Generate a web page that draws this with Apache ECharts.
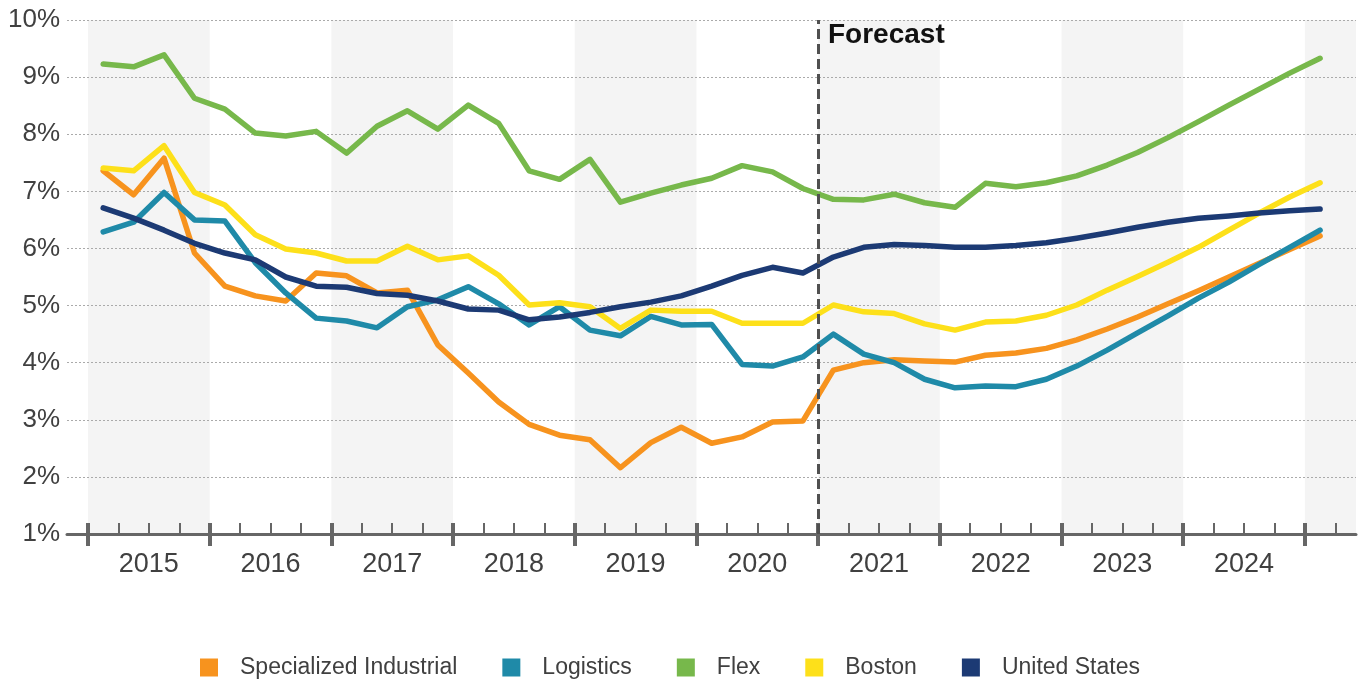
<!DOCTYPE html>
<html>
<head>
<meta charset="utf-8">
<script src="https://cdn.jsdelivr.net/npm/echarts@6/dist/echarts.min.js"></script>
<style>html,body{margin:0;padding:0;background:#fff}#c{width:1364px;height:682px}</style>
</head>
<body>
<div id="c"></div>
<script>
// ---- data (quarterly, 2015 Q1 .. 2025 Q1) ----
const years = ['2015','2016','2017','2018','2019','2020','2021','2022','2023','2024'];
const quartersPerYear = 4;
const forecastStartQuarter = 24; // 2021 Q1
const seriesNames = ['Specialized Industrial','Logistics','Flex','Boston','United States'];
const seriesColors = ['#F7931E','#1F8AA8','#77B84B','#FDE01A','#1C3A74'];

const specialized = [7.36,6.94,7.58,5.92,5.34,5.17,5.08,5.57,5.52,5.22,
  5.27,4.31,3.82,3.31,2.92,2.73,2.65,2.16,2.60,2.87,
  2.59,2.70,2.96,2.98,3.87,4.00,4.05,4.03,4.01,4.13,
  4.17,4.25,4.40,4.59,4.80,5.03,5.26,5.50,5.74,5.98,6.22];
const logistics = [6.29,6.46,6.98,6.50,6.48,5.75,5.22,4.78,4.73,4.61,
  4.98,5.10,5.33,5.03,4.66,4.98,4.57,4.47,4.81,4.66,
  4.67,3.97,3.94,4.10,4.50,4.15,4.00,3.71,3.56,3.59,
  3.58,3.71,3.94,4.22,4.52,4.82,5.13,5.41,5.72,6.02,6.32];
const flex = [9.23,9.18,9.39,8.63,8.44,8.02,7.97,8.05,7.67,8.14,
  8.41,8.09,8.51,8.19,7.36,7.21,7.56,6.81,6.97,7.11,
  7.23,7.45,7.34,7.05,6.86,6.85,6.95,6.80,6.72,7.14,
  7.08,7.15,7.27,7.46,7.68,7.94,8.22,8.51,8.79,9.07,9.33];
const boston = [7.41,7.36,7.80,6.98,6.76,6.24,5.99,5.92,5.78,5.78,
  6.04,5.80,5.87,5.53,5.01,5.05,4.98,4.60,4.92,4.90,
  4.90,4.69,4.69,4.69,5.01,4.89,4.86,4.68,4.57,4.71,
  4.73,4.83,5.01,5.27,5.51,5.76,6.02,6.32,6.62,6.90,7.15];
const unitedStates = [6.71,6.53,6.32,6.09,5.92,5.80,5.50,5.34,5.32,5.21,
  5.18,5.08,4.94,4.92,4.75,4.80,4.88,4.98,5.06,5.17,
  5.34,5.53,5.67,5.57,5.85,6.02,6.07,6.05,6.02,6.02,
  6.05,6.10,6.18,6.27,6.37,6.46,6.53,6.57,6.62,6.66,6.69];
const yTicks = [1,2,3,4,5,6,7,8,9,10];

// ---- axis geometry in quarter units ----
const X_MIN = -0.69, X_MAX = 41.68;
const nYears = years.length;
const majorTicks = [];
for (let k = 0; k <= nYears; k++) majorTicks.push(k * quartersPerYear);
const minorTicks = [];
for (let q = 0; q <= X_MAX; q++) if (q % quartersPerYear !== 0) minorTicks.push(q);
const labelPos = years.map((y, k) => k * quartersPerYear + quartersPerYear / 2);
const bands = [];
for (let k = 0; k <= nYears; k += 2) {
  bands.push([{xAxis: k * quartersPerYear}, {xAxis: Math.min((k + 1) * quartersPerYear, X_MAX)}]);
}

const allData = [specialized, logistics, flex, boston, unitedStates];
const toPoints = arr => arr.map((v, i) => [i + 0.5, v]);

const FONT = 'Liberation Sans, Arial, sans-serif';
const axisGray = '#666666';

const baseX = {
  type: 'value', min: X_MIN, max: X_MAX, position: 'bottom', z: 1.5,
  splitLine: {show: false}
};

const series = seriesNames.map((name, si) => {
  const s = {
    name, type: 'line', data: toPoints(allData[si]), symbol: 'none', z: 3,
    color: seriesColors[si],
    lineStyle: {width: 5.5, color: seriesColors[si], cap: 'round', join: 'round'},
    itemStyle: {color: seriesColors[si]}
  };
  if (si === 0) {
    s.markArea = {silent: true, z: 1, itemStyle: {color: '#F4F4F4'}, label: {show: false}, data: bands};
    s.markLine = {silent: true, symbol: ['none','none'], label: {show: false},
      lineStyle: {color: '#505050', width: 3, type: [10, 5]}, data: [{xAxis: forecastStartQuarter}]};
  }
  return s;
});

const chart = echarts.init(document.getElementById('c'));
chart.setOption({
  animation: false,
  textStyle: {fontFamily: FONT},
  title: {text: 'Forecast', left: 828, top: 21, padding: 0,
    textStyle: {fontSize: 28, fontWeight: 'bold', color: '#111111', fontFamily: FONT}},
  grid: {left: 67, right: 8, top: 20, bottom: 148, containLabel: false},
  legend: {
    data: seriesNames, left: 195, top: 651, icon: 'rect', itemWidth: 18, itemHeight: 18, itemGap: 45,
    textStyle: {fontSize: 23, color: '#404040', fontFamily: FONT, padding: [0, 0, 0, 17]}
  },
  xAxis: [
    Object.assign({}, baseX, {
      axisLine: {show: true, onZero: false, lineStyle: {color: axisGray, width: 3}},
      axisTick: {show: true, customValues: majorTicks, length: 12, lineStyle: {color: axisGray, width: 4}},
      axisLabel: {show: true, customValues: labelPos, fontSize: 27, color: '#404040', margin: 17, fontFamily: FONT,
        formatter: v => years[Math.round((v - quartersPerYear / 2) / quartersPerYear)]}
    }),
    Object.assign({}, baseX, {
      axisLine: {show: false, onZero: false},
      axisTick: {show: true, inside: true, customValues: majorTicks, length: 11, lineStyle: {color: axisGray, width: 4}},
      axisLabel: {show: false}
    }),
    Object.assign({}, baseX, {
      axisLine: {show: false, onZero: false},
      axisTick: {show: true, inside: true, customValues: minorTicks, length: 11, lineStyle: {color: axisGray, width: 2}},
      axisLabel: {show: false}
    })
  ],
  yAxis: {
    type: 'value', min: yTicks[0], max: yTicks[yTicks.length - 1], interval: 1, z: 1.5,
    axisLine: {show: false, onZero: false}, axisTick: {show: false},
    axisLabel: {formatter: '{value}%', fontSize: 26, color: '#404040', margin: 7, fontFamily: FONT},
    splitLine: {show: true, lineStyle: {color: '#AAAAAA', width: 1, type: [2, 2]}}
  },
  series
});
</script>
</body>
</html>
